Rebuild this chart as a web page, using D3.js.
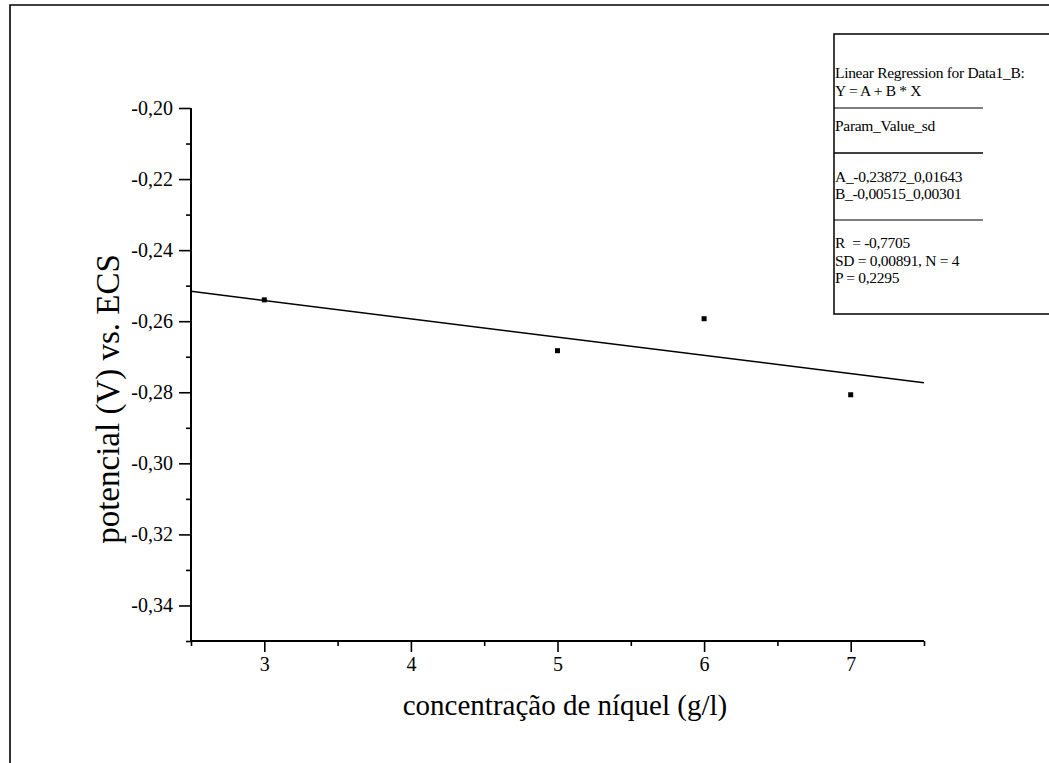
<!DOCTYPE html>
<html>
<head>
<meta charset="utf-8">
<script src="https://cdn.jsdelivr.net/npm/d3@7"></script>
<style>
  html, body { margin: 0; padding: 0; background: #fff; }
  svg { display: block; }
  text { font-family: "Liberation Serif", "Times New Roman", serif; fill: #000; }
</style>
</head>
<body>
<svg id="chart" width="1049" height="763"></svg>
<script>
// Measured data: nickel concentration (g/l) vs. potential (V) vs. SCE
const concentration = [3, 5, 6, 7];
const potential = [-0.2540, -0.2683, -0.2593, -0.2807];

// Linear fit parameters (Y = A + B * X)
const fitA = -0.23872;
const fitB = -0.00515;

const xTicks = [3, 4, 5, 6, 7];
const yTicks = [-0.34, -0.32, -0.30, -0.28, -0.26, -0.24, -0.22, -0.20];

const statsLines = [
  ["Linear Regression for Data1_B:", "Y = A + B * X"],
  ["Param_Value_sd"],
  ["A_-0,23872_0,01643", "B_-0,00515_0,00301"],
  ["R  = -0,7705", "SD = 0,00891, N = 4", "P = 0,2295"]
];

const svg = d3.select("#chart");

// page frame
svg.append("path")
  .attr("d", "M10,763 L10,5 L1049,5")
  .attr("fill", "none").attr("stroke", "#000").attr("stroke-width", 1.6);

const plot = { left: 191, right: 924, top: 108, bottom: 641 };

const x = d3.scaleLinear().domain([2.5, 7.5]).range([plot.left, plot.right]);
const y = d3.scaleLinear().domain([-0.35, -0.20]).range([plot.bottom, plot.top]);

const fmtY = d => d3.format(".2f")(d).replace(".", ",").replace("−", "-");

// minor ticks
const xMinor = d3.range(2.5, 7.51, 0.5).filter(v => !xTicks.includes(v));
const yMinor = d3.range(-0.35, -0.199, 0.01).map(v => +v.toFixed(2)).filter(v => !yTicks.includes(v));

const xAxis = svg.append("g").attr("transform", `translate(0,${plot.bottom})`)
  .call(d3.axisBottom(x).tickValues(xTicks).tickFormat(d3.format("d")).tickSize(11).tickPadding(5));
svg.append("g").attr("transform", `translate(0,${plot.bottom})`)
  .call(d3.axisBottom(x).tickValues(xMinor).tickFormat("").tickSize(5))
  .call(g => g.select(".domain").remove());

const yAxis = svg.append("g").attr("transform", `translate(${plot.left},0)`)
  .call(d3.axisLeft(y).tickValues(yTicks).tickFormat(fmtY).tickSize(12).tickPadding(6));
svg.append("g").attr("transform", `translate(${plot.left},0)`)
  .call(d3.axisLeft(y).tickValues(yMinor).tickFormat("").tickSize(5))
  .call(g => g.select(".domain").remove());

svg.selectAll(".domain").attr("stroke-width", 2).attr("stroke", "#000");
svg.selectAll(".tick line").attr("stroke-width", 1.6).attr("stroke", "#000");
xAxis.selectAll(".domain").attr("d", `M${plot.left},0H${plot.right}`);
yAxis.selectAll(".domain").attr("d", `M0,${plot.bottom}V${plot.top}`);
svg.selectAll(".tick text")
  .style("font-family", '"Liberation Serif", serif')
  .style("font-size", "20px").attr("fill", "#000");

// regression line across the x range
const fitLine = d3.line().x(d => x(d)).y(d => y(fitA + fitB * d));
svg.append("path")
  .datum(x.domain())
  .attr("d", fitLine)
  .attr("fill", "none").attr("stroke", "#000").attr("stroke-width", 1.5);

// data points
svg.selectAll("rect.pt")
  .data(concentration.map((c, i) => [c, potential[i]]))
  .join("rect")
  .attr("class", "pt")
  .attr("x", d => x(d[0]) - 2.5).attr("y", d => y(d[1]) - 2.5)
  .attr("width", 5).attr("height", 5).attr("fill", "#000");

// axis titles
svg.append("text")
  .attr("x", 565).attr("y", 715)
  .attr("text-anchor", "middle")
  .style("font-size", "29px")
  .text("concentração de níquel (g/l)");

svg.append("text")
  .attr("transform", `translate(119,399) rotate(-90)`)
  .attr("text-anchor", "middle")
  .style("font-size", "33px")
  .text("potencial (V) vs. ECS");

// regression statistics box
const box = svg.append("g");
box.append("path")
  .attr("d", "M1049,34 L834,34 L834,314 L1049,314")
  .attr("fill", "none").attr("stroke", "#000").attr("stroke-width", 1.5);

const lineBaselines = [[78, 96], [131], [182, 199], [248, 266, 283]];
const sepY = [108, 153, 220];
statsLines.forEach((grp, gi) => {
  grp.forEach((t, li) => {
    box.append("text")
      .attr("x", 835).attr("y", lineBaselines[gi][li])
      .style("font-size", "15.5px")
      .style("letter-spacing", "-0.3px")
      .attr("xml:space", "preserve")
      .style("white-space", "pre")
      .text(t);
  });
  if (gi < sepY.length) {
    box.append("line")
      .attr("x1", 834).attr("x2", 983)
      .attr("y1", sepY[gi]).attr("y2", sepY[gi])
      .attr("stroke", "#000").attr("stroke-width", gi === 1 ? 1.5 : 1);
  }
});
</script>
</body>
</html>
